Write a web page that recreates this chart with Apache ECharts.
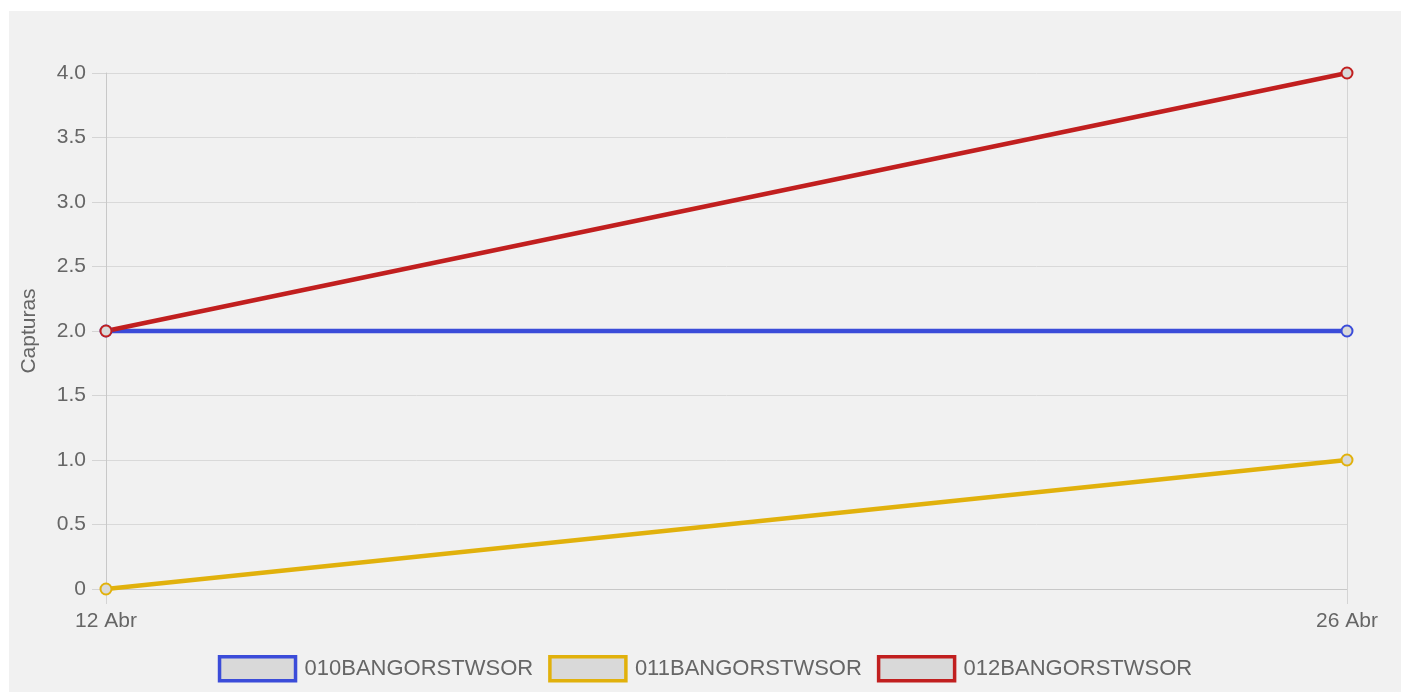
<!DOCTYPE html>
<html>
<head>
<meta charset="utf-8">
<script src="https://cdn.jsdelivr.net/npm/echarts@6/dist/echarts.min.js"></script>
<style>
  html, body { margin: 0; padding: 0; background: #ffffff; }
  #myChart { position: absolute; left: 9px; top: 11px; width: 1392px; height: 681px; background: #f1f1f1; }
</style>
</head>
<body>
<div id="myChart"></div>
<script>
// datos del grafico
const fechas = ['12 Abr', '26 Abr'];
const nombres = ['010BANGORSTWSOR', '011BANGORSTWSOR', '012BANGORSTWSOR'];
const colores = ['#3b4cd9', '#e1b10c', '#c11f1f'];
const trampa010 = [2, 2];
const trampa011 = [0, 1];
const trampa012 = [2, 4];
const valores = [trampa010, trampa011, trampa012];

const textoGris = '#666666';
const fuente = 'Liberation Sans, Arial, sans-serif';

let myChart = echarts.init(document.getElementById('myChart'));

myChart.setOption({
  animation: false,
  textStyle: { fontFamily: fuente },
  grid: { left: 97, right: 54, top: 62, bottom: 103, containLabel: false },
  legend: {
    top: 639,
    left: 'center',
    icon: 'rect',
    itemWidth: 76,
    itemHeight: 24,
    itemGap: 15,
    textStyle: { color: textoGris, fontSize: 22, fontFamily: fuente, padding: [0, 0, 0, 4] },
    data: nombres.map((n, i) => ({
      name: n,
      itemStyle: { color: '#d9d9d9', borderColor: colores[i], borderWidth: 3.5 }
    }))
  },
  xAxis: {
    type: 'category',
    boundaryGap: false,
    data: fechas,
    axisLine: { lineStyle: { color: '#c8c8c8', width: 1 } },
    axisTick: { show: true, length: 15, lineStyle: { color: '#d4d4d4' } },
    axisLabel: { color: textoGris, fontSize: 21, margin: 22 },
    splitLine: { show: true, lineStyle: { color: '#d4d4d4' } }
  },
  yAxis: {
    type: 'value',
    min: 0,
    max: 4,
    interval: 0.5,
    name: 'Capturas',
    nameLocation: 'middle',
    nameGap: 66,
    nameTextStyle: { color: textoGris, fontSize: 21 },
    axisLine: { show: true, lineStyle: { color: '#c8c8c8' } },
    axisTick: { show: true, length: 14, lineStyle: { color: '#d4d4d4' } },
    axisLabel: {
      color: textoGris,
      fontSize: 21,
      margin: 20,
      formatter: v => (v === 0 ? '0' : v.toFixed(1))
    },
    splitLine: { show: true, lineStyle: { color: '#d9d9d9' } }
  },
  series: nombres.map((n, i) => ({
    name: n,
    type: 'line',
    data: valores[i],
    color: colores[i],
    symbol: 'circle',
    symbolSize: 11,
    lineStyle: { color: colores[i], width: 4.5 },
    itemStyle: { color: '#d9d9d9', borderColor: colores[i], borderWidth: 2 }
  }))
});
</script>
</body>
</html>
